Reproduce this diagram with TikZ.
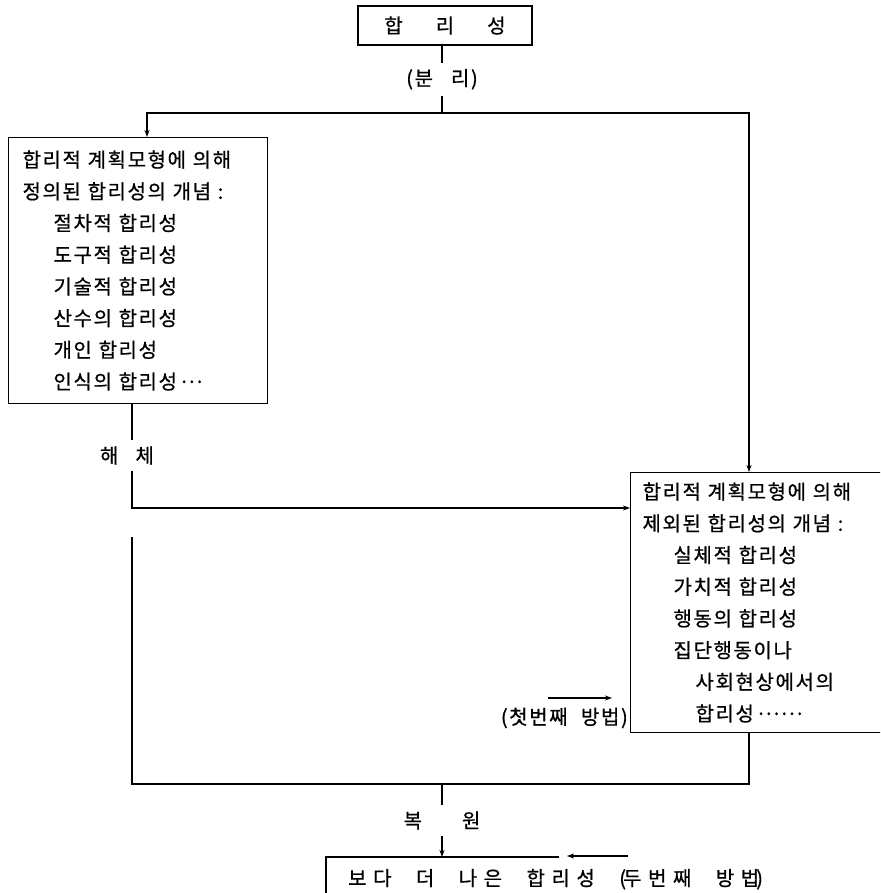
\documentclass[tikz,border=0pt]{standalone}
\usepackage{fontspec}
\newfontfamily\kr[LetterSpace=8,WordSpace=2.2,FakeBold=0.7]{Noto Sans CJK KR}
\newfontfamily\krwide[LetterSpace=33,WordSpace=2.2,FakeBold=0.7]{Noto Sans CJK KR}
\usetikzlibrary{arrows.meta,calc}
% tight run of middle dots
\newcommand\mdots[1]{\foreach \i in {1,...,#1}{·\kern-3.5pt}\kern3.5pt}
\begin{document}
\begin{tikzpicture}[x=1pt,y=-1pt,
  every node/.style={font=\kr\fontsize{20}{31.7}\selectfont},
  line/.style={line width=1.1pt},
  arr/.style={line width=1.1pt,-{Stealth[length=7pt,width=5pt]}},
  lbl/.style={fill=white,inner xsep=1pt,inner ysep=6pt},
  box/.style={draw,line width=1.1pt,align=left,anchor=north west,inner ysep=0pt}]

\path[use as bounding box] (0,0) rectangle (880,893);
\clip (0,0) rectangle (880,893);

% rationality, split into two branches
\node[draw,line width=1.1pt,minimum width=174pt,minimum height=39pt,inner sep=0pt]
  (top) at (445,25.5) {합\hspace{33pt}리\hspace{33pt}성};
\coordinate (split) at (442,113);
\draw[line] (top.south -| split) -- node[lbl]{(분\hspace{18pt}리)} (split);
\coordinate (lin) at (147,137);
\coordinate (rin) at (749,472);
\draw[arr] (split) -| (lin);
\draw[arr] (split) -| (rin);

% concepts defined by the rational planning model
\node[box,minimum width=259pt,minimum height=266pt,text width=231pt,inner xsep=14pt]
  (lbox) at (8,137) {%
  합리적 계획모형에 의해\\
  정의된 합리성의 개념 :\\
  \hspace*{31pt}절차적 합리성\\
  \hspace*{31pt}도구적 합리성\\
  \hspace*{31pt}기술적 합리성\\
  \hspace*{31pt}산수의 합리성\\
  \hspace*{31pt}개인 합리성\\
  \hspace*{31pt}인식의 합리성\mdots{3}};

% concepts excluded by the rational planning model
\node[box,minimum width=270pt,minimum height=260pt,text width=246pt,inner xsep=12pt]
  (rbox) at (630,472) {%
  합리적 계획모형에 의해\\
  제외된 합리성의 개념 :\\
  \hspace*{31pt}실체적 합리성\\
  \hspace*{31pt}가치적 합리성\\
  \hspace*{31pt}행동의 합리성\\
  \hspace*{31pt}집단행동이나\\
  \hspace*{53pt}사회현상에서의\\
  \hspace*{53pt}합리성\mdots{6}};

% dismantling
\coordinate (lout) at (132,403);
\coordinate (lbend) at (132,508);
\draw[arr] (lout) -- node[lbl,xshift=-5pt]{해\hspace{17pt}체} (lbend) -- (lbend -| rbox.west);

% first method
\node[anchor=east,inner sep=1pt] (first) at (629,718) {(첫번째 방법)};
\coordinate (fa) at (548,698);
\coordinate (fb) at (612,698);
\draw[arr] (fa) -- (fb);

% restoration loop
\coordinate (lstart) at (132,537);
\coordinate (merge) at (442,784);
\draw[line] (lstart) |- (merge) -- (merge -| rin) -- (rbox.south -| rin);

% better rationality
\node[anchor=north west,inner xsep=22pt,inner ysep=0pt,minimum height=44pt,
  font=\krwide\fontsize{20}{24}\selectfont] (bbox) at (326,857)
  {보다 더 나은 합리성 (\kern-3pt 두번째 방법\kern-3pt)};
\draw[line] (bbox.south west) -- (bbox.north west) -- ++(233,0);
\draw[arr] (merge) -- node[lbl]{복\hspace{40pt}원} (merge |- bbox.north);
\coordinate (bfrom) at (628,856);
\coordinate (bto) at (567,856);
\draw[arr] (bfrom) -- (bto);
\end{tikzpicture}
\end{document}
